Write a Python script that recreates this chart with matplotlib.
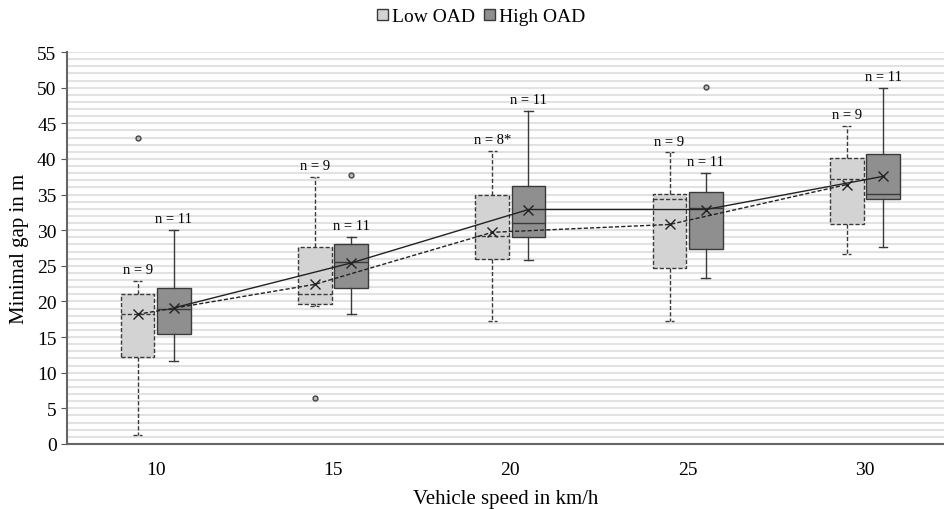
import matplotlib
matplotlib.use("Agg")
import matplotlib.pyplot as plt
from matplotlib.patches import Patch
import numpy as np

plt.rcParams['font.family'] = ['Liberation Serif', 'DejaVu Serif']

speeds = ["10", "15", "20", "25", "30"]
series = ["Low OAD", "High OAD"]

# Low OAD statistics
low_whislo = [1.3, 19.4, 17.2, 17.3, 26.7]
low_q1     = [12.2, 19.6, 26.0, 24.65, 30.8]
low_med    = [18.2, 21.0, 29.2, 34.4, 37.2]
low_q3     = [21.0, 27.7, 35.0, 35.1, 40.1]
low_whishi = [22.9, 37.5, 41.1, 40.9, 44.6]
low_mean   = [18.2, 22.4, 29.7, 30.8, 36.4]
low_fliers = [[43.0], [6.4], [], [], []]
low_n      = ["n = 9", "n = 9", "n = 8*", "n = 9", "n = 9"]

# High OAD statistics
high_whislo = [11.7, 18.2, 25.8, 23.3, 27.6]
high_q1     = [15.4, 21.9, 29.0, 27.4, 34.4]
high_med    = [19.0, 25.5, 31.0, 33.1, 35.1]
high_q3     = [21.9, 28.0, 36.2, 35.3, 40.7]
high_whishi = [30.0, 29.0, 46.7, 38.0, 50.0]
high_mean   = [19.1, 25.4, 32.9, 32.9, 37.55]
high_fliers = [[], [37.8], [], [50.05], []]
high_n      = ["n = 11", "n = 11", "n = 11", "n = 11", "n = 11"]

low_color = "#d3d3d3"
high_color = "#8f8f8f"
edge = "#3a3a3a"

fig = plt.figure(figsize=(9.44, 5.10), dpi=100)
ax = fig.add_axes([67/944, 1-445/510, 1-67/944, (445-53)/510])

def stats(whislo, q1, med, q3, whishi, mean, fliers):
    out = []
    for i in range(len(med)):
        out.append(dict(whislo=whislo[i], q1=q1[i], med=med[i], q3=q3[i],
                        whishi=whishi[i], mean=mean[i], fliers=fliers[i]))
    return out

x = np.arange(len(speeds))
off = 0.102
w = 0.19

low_stats = stats(low_whislo, low_q1, low_med, low_q3, low_whishi, low_mean, low_fliers)
high_stats = stats(high_whislo, high_q1, high_med, high_q3, high_whishi, high_mean, high_fliers)

for st, pos, color, ls in [(low_stats, x - off, low_color, (0, (3, 1.5))),
                           (high_stats, x + off, high_color, '-')]:
    ax.bxp(st, positions=pos, widths=w, patch_artist=True, showmeans=False,
           showfliers=True, manage_ticks=False,
           boxprops=dict(facecolor=color, edgecolor=edge, linewidth=1.0, linestyle=ls),
           whiskerprops=dict(color=edge, linewidth=1.0, linestyle=ls),
           capprops=dict(color=edge, linewidth=1.0, linestyle=ls),
           medianprops=dict(color=edge, linewidth=1.0, linestyle=ls),
           flierprops=dict(marker='o', markersize=3.5, markerfacecolor='#bbbbbb',
                           markeredgecolor='#444444', markeredgewidth=1.0),
           capwidths=0.05)

# mean lines
ax.plot(x - off, low_mean, color='#222222', lw=1.0, ls=(0, (3, 1.5)), marker='x',
        markersize=7, markeredgewidth=1.0, zorder=5)
ax.plot(x + off, high_mean, color='#222222', lw=1.0, ls='-', marker='x',
        markersize=7, markeredgewidth=1.0, zorder=5)

# n labels
for i in range(len(speeds)):
    ax.text(x[i] - off, low_whishi[i] + 0.7, low_n[i], ha='center', va='bottom', fontsize=10.5)
    ax.text(x[i] + off, high_whishi[i] + 0.7, high_n[i], ha='center', va='bottom', fontsize=10.5)

ax.set_xlim(-0.5, (944-156)/177.25)
ax.set_ylim(0, 55)
ax.set_xticks(x)
ax.set_xticklabels(speeds, fontsize=14)
ax.set_yticks(np.arange(0, 56, 5))
ax.set_yticks(np.arange(0, 56, 1), minor=True)
ax.tick_params(axis='y', which='major', labelsize=14, length=4, color='#555555')
ax.tick_params(axis='y', which='minor', length=0)
ax.tick_params(axis='x', length=0, pad=12)
ax.grid(True, axis='y', which='both', color='#e2e2e2', linewidth=1.5)
ax.set_axisbelow(True)
for s in ['top', 'right']:
    ax.spines[s].set_visible(False)
for s in ['left', 'bottom']:
    ax.spines[s].set_color('#666666')
    ax.spines[s].set_linewidth(1.5)

ax.set_ylabel("Minimal gap in m", fontsize=15, labelpad=6)
ax.set_xlabel("Vehicle speed in km/h", fontsize=15, labelpad=8)

handles = [Patch(facecolor=low_color, edgecolor=edge, linewidth=1.0),
           Patch(facecolor=high_color, edgecolor=edge, linewidth=1.0)]
fig.legend(handles, series, loc='center', bbox_to_anchor=(481/944, 1-18/510), ncol=2,
           frameon=False, fontsize=14, handlelength=0.55, handleheight=0.55,
           handletextpad=0.2, columnspacing=0.5)

fig.savefig("out.png", dpi=100)
